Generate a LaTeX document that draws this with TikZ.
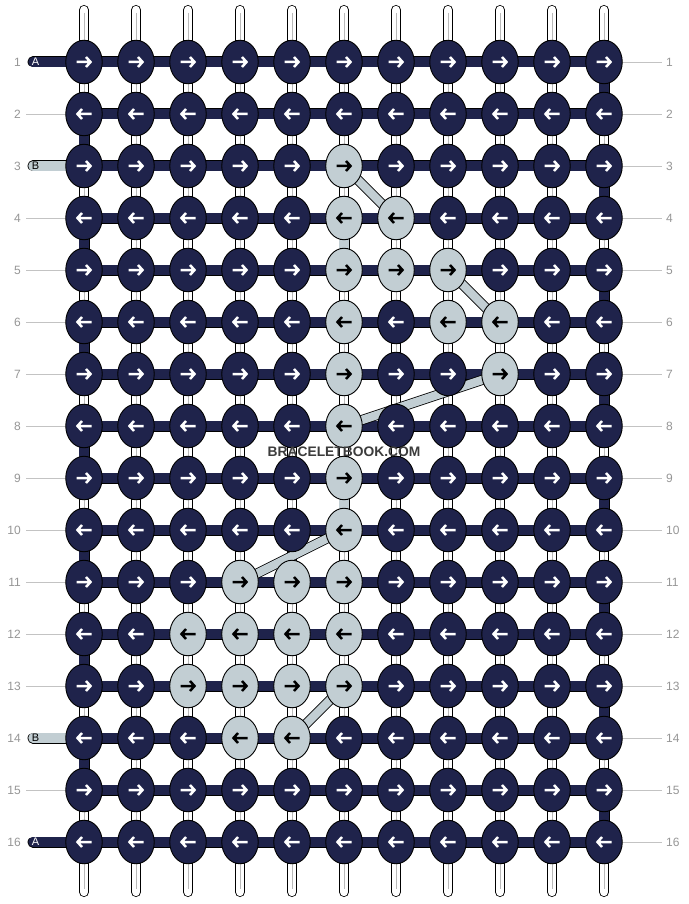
\documentclass[tikz,border=0pt]{standalone}
\usepackage{fontspec}
\setmainfont{Liberation Sans}
\usetikzlibrary{shapes.geometric}
\definecolor{dk}{RGB}{31,35,75}
\definecolor{lt}{RGB}{194,206,211}
\definecolor{lbl}{RGB}{150,150,150}
\definecolor{lline}{RGB}{195,195,195}
\definecolor{tubeln}{RGB}{185,185,185}
\definecolor{wm}{RGB}{60,60,60}
\tikzset{
  barD/.style={line width=0.8pt, draw=black, double=dk, double distance=9.4pt},
  barL/.style={line width=0.8pt, draw=black, double=lt, double distance=9.4pt},
  barW/.style={line width=0.8pt, draw=black, double=white, double distance=8.4pt},
  tubeW/.style={barW, line cap=round},
  midln/.style={draw=tubeln, line width=0.9pt},
  stubD/.style={barD, line cap=round},
  stubL/.style={barL, line cap=round},
  diagL/.style={line width=0.8pt, draw=black, double=lt, double distance=8.4pt},
  knotD/.style={ellipse, draw=black, line width=0.9pt, fill=dk, minimum width=36.5pt, minimum height=43.5pt, inner sep=0pt},
  knotL/.style={knotD, fill=lt},
  arrline/.style={line width=2.5pt, line join=miter},
  numlbl/.style={text=lbl, font=\fontsize{12}{12}\selectfont, inner sep=0pt},
  guide/.style={draw=lline, line width=0.9pt},
  stubtxtW/.style={text=white, font=\fontsize{11}{11}\selectfont, inner sep=0pt},
  stubtxtB/.style={text=black, font=\fontsize{11}{11}\selectfont, inner sep=0pt},
  wmark/.style={text=wm, font=\bfseries\fontsize{13.8}{14}\selectfont, inner sep=0pt}
}
\foreach \p in {3-6,4-6,4-7,5-6,5-7,5-8,6-6,6-8,6-9,7-6,7-9,8-6,9-6,10-6,11-4,11-5,11-6,12-3,12-4,12-5,12-6,13-3,13-4,13-5,13-6,14-4,14-5}{\expandafter\gdef\csname Lt\p\endcsname{}}
\foreach \p in {4-6,9-6}{\expandafter\gdef\csname Vl\p\endcsname{}}
\begin{document}
\begin{tikzpicture}[x=1pt,y=-1pt]
\useasboundingbox (0,0) rectangle (688,904);
\fill[white] (0,0) rectangle (688,904);
% grid coordinates
\foreach \r in {1,...,16}{\foreach \c in {1,...,11}{
  \coordinate (p-\r-\c) at ({84+52*(\c-1)},{62+52*(\r-1)});}}
% top and bottom strings
\foreach \c in {1,...,11}{
  \coordinate (t-\c) at ({84+52*(\c-1)},10);
  \coordinate (b-\c) at ({84+52*(\c-1)},892);
  \draw[tubeW] (t-\c) -- (p-1-\c);
  \draw[midln] ([yshift=-3pt]t-\c) -- (p-1-\c);
  \draw[tubeW] (p-16-\c) -- (b-\c);
  \draw[midln] (p-16-\c) -- ([yshift=3pt]b-\c);
}
% vertical segments between rows
\foreach \r [evaluate=\r as \rn using int(\r+1)] in {1,...,15}{
  \foreach \c in {1,...,11}{
    \ifnum\c=1 \ifodd\r \def\vs{W}\else\def\vs{D}\fi
    \else\ifnum\c=11 \ifodd\r \def\vs{D}\else\def\vs{W}\fi
    \else\def\vs{W}\fi\fi
    \ifcsname Vl\r-\c\endcsname \def\vs{L}\fi
    \if W\vs
      \draw[barW] (p-\r-\c) -- (p-\rn-\c);
      \draw[midln] (p-\r-\c) -- (p-\rn-\c);
    \else\if D\vs
      \draw[barD] (p-\r-\c) -- (p-\rn-\c);
    \else
      \draw[barL] (p-\r-\c) -- (p-\rn-\c);
    \fi\fi
  }}
% horizontal bars
\foreach \r in {1,...,16}{
  \foreach \c [evaluate=\c as \cn using int(\c+1)] in {1,...,10}{
    \draw[barD] (p-\r-\c) -- (p-\r-\cn);
  }}
% guide lines and row numbers
\foreach \r in {1,...,16}{
  \coordinate (gl-\r) at (26,{62+52*(\r-1)});
  \coordinate (gr-\r) at (662,{62+52*(\r-1)});
  \draw[guide] (p-\r-11) -- (gr-\r);
  \node[numlbl, anchor=east] (nl-\r) at (21,{62+52*(\r-1)}) {\r};
  \node[numlbl, anchor=west] (nr-\r) at (666,{62+52*(\r-1)}) {\r};
}
\foreach \r in {2,4,5,6,7,8,9,10,11,12,13,15}{
  \draw[guide] (gl-\r) -- (p-\r-1);
}
% stubs
\coordinate (s-1) at (33,62);
\coordinate (s-3) at (33,166);
\coordinate (s-14) at (33,738);
\coordinate (s-16) at (33,842);
\draw[stubD] (s-1) -- (p-1-1);
\draw[stubL] (s-3) -- (p-3-1);
\draw[stubL] (s-14) -- (p-14-1);
\draw[stubD] (s-16) -- (p-16-1);
\node[stubtxtW] (sa-1) at (35.5,62) {A};
\node[stubtxtB] (sb-3) at (35.5,166) {B};
\node[stubtxtB] (sb-14) at (35.5,738) {B};
\node[stubtxtW] (sa-16) at (35.5,842) {A};
% diagonals
\draw[diagL] (p-3-6) -- (p-4-7);
\draw[diagL] (p-5-8) -- (p-6-9);
\draw[diagL] (p-7-9) -- (p-8-6);
\draw[diagL] (p-10-6) -- (p-11-4);
\draw[diagL] (p-13-6) -- (p-14-5);
% knots
\foreach \r in {1,...,16}{\foreach \c in {1,...,11}{
  \ifcsname Lt\r-\c\endcsname
    \node[knotL] (k-\r-\c) at (p-\r-\c) {};
    \def\ac{black}
  \else
    \node[knotD] (k-\r-\c) at (p-\r-\c) {};
    \def\ac{white}
  \fi
  \ifodd\r
    \draw[arrline, draw=\ac, shift={(p-\r-\c)}] (-7.5,0) -- (6.5,0) (2,-5) -- (6.5,0) -- (2,5);
  \else
    \draw[arrline, draw=\ac, shift={(p-\r-\c)}] (7.5,0) -- (-6.5,0) (-2,-5) -- (-6.5,0) -- (-2,5);
  \fi
}}
% watermark
\node[wmark] (wm) at (344,451.5) {BRACELETBOOK.COM};
\end{tikzpicture}
\end{document}
